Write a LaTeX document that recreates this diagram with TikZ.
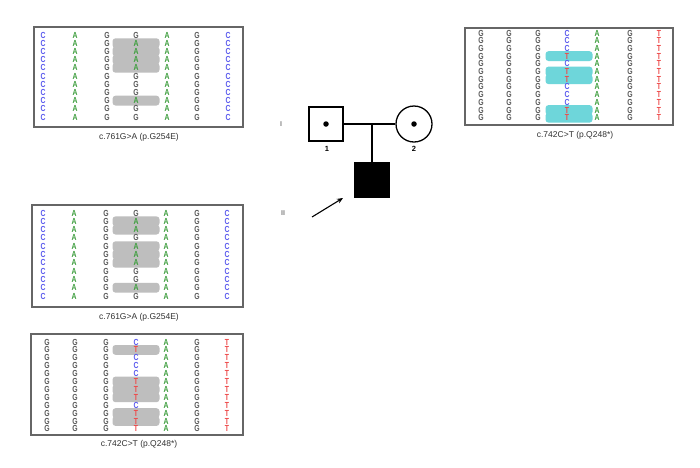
\documentclass[tikz,border=0pt]{standalone}
\usepackage{fontspec}
\usepackage{graphicx}
\newfontfamily\labfam{Liberation Sans}
\usetikzlibrary{arrows.meta}
\definecolor{colC}{HTML}{5B5BEE}
\definecolor{colA}{HTML}{3E9E3E}
\definecolor{colG}{HTML}{5A5A5A}
\definecolor{colT}{HTML}{EE4A4A}
\definecolor{hlgray}{HTML}{BEBEBE}
\definecolor{hlcyan}{HTML}{6ED6DA}
\definecolor{boxgray}{HTML}{666666}
\definecolor{labgray}{HTML}{333333}
\newcommand\seqfont{\labfam\bfseries\fontsize{8.8}{8.8}\selectfont}
\newcommand\seqcolumn[5]{%
  \foreach \L [count=\r] in {#5} {
    \node[base, text=col\L] (#1-\r) at (#2, {#3+(\r-1)*#4}) {\scalebox{0.78}[1]{\L}};
  }}
\newcommand\hlrows[5]{%
  \foreach \r in {#5} {
    \fill[#4, rounded corners=3pt] ({#1-23.5}, {#2+(\r-1)*#3-4.9}) rectangle ({#1+23.5}, {#2+(\r-1)*#3+4.9});
  }}
\begin{document}
\begin{tikzpicture}[x=1pt,y=-1pt,
  box/.style={draw=boxgray, line width=1.5pt},
  base/.style={inner sep=0pt, font=\seqfont, anchor=center},
  lab/.style={font=\labfam\fontsize{8.5}{8.5}\selectfont, text=labgray, inner sep=0pt},
  gen/.style={font=\labfam\bfseries\fontsize{7}{7}\selectfont, text=gray, inner sep=0pt},
  ped/.style={draw=black, line width=1.3pt, inner sep=0pt},
  dot/.style={circle, fill=black, inner sep=0pt, minimum size=5.5pt}]
\useasboundingbox (0,0) rectangle (700,467);
\fill[white] (0,0) rectangle (700,467);

% ---------- top-left box c.761G>A ----------
\draw[box] (34,27) rectangle (243,127);
\hlrows{136}{35}{8.2}{hlgray}{2,3,4,5,9}
\seqcolumn{tla}{43}{35}{8.2}{C,C,C,C,C,C,C,C,C,C,C}
\seqcolumn{tlb}{75}{35}{8.2}{A,A,A,A,A,A,A,A,A,A,A}
\seqcolumn{tlc}{107}{35}{8.2}{G,G,G,G,G,G,G,G,G,G,G}
\seqcolumn{tld}{136}{35}{8.2}{G,A,A,A,A,G,G,G,A,G,G}
\seqcolumn{tle}{167}{35}{8.2}{A,A,A,A,A,A,A,A,A,A,A}
\seqcolumn{tlf}{197}{35}{8.2}{G,G,G,G,G,G,G,G,G,G,G}
\seqcolumn{tlg}{228}{35}{8.2}{C,C,C,C,C,C,C,C,C,C,C}
\node[lab] (tllab) at (139,137) {c.761G>A (p.G254E)};

% ---------- top-right box c.742C>T ----------
\draw[box] (465,28) rectangle (673,125);
\hlrows{569}{33}{7.7}{hlcyan}{4,6,7,11,12}
\seqcolumn{tra}{481}{33}{7.7}{G,G,G,G,G,G,G,G,G,G,G,G}
\seqcolumn{trb}{509}{33}{7.7}{G,G,G,G,G,G,G,G,G,G,G,G}
\seqcolumn{trc}{538}{33}{7.7}{G,G,G,G,G,G,G,G,G,G,G,G}
\seqcolumn{trd}{567}{33}{7.7}{C,C,C,T,C,T,T,C,C,C,T,T}
\seqcolumn{tre}{597}{33}{7.7}{A,A,A,A,A,A,A,A,A,A,A,A}
\seqcolumn{trf}{630}{33}{7.7}{G,G,G,G,G,G,G,G,G,G,G,G}
\seqcolumn{trg}{659}{33}{7.7}{T,T,T,T,T,T,T,T,T,T,T,T}
\node[lab] (trlab) at (575,135) {c.742C>T (p.Q248*)};

% ---------- middle-left box c.761G>A ----------
\draw[box] (32,205) rectangle (243,307);
\hlrows{136}{213}{8.3}{hlgray}{2,3,5,6,7,10}
\seqcolumn{mla}{43}{213}{8.3}{C,C,C,C,C,C,C,C,C,C,C}
\seqcolumn{mlb}{74}{213}{8.3}{A,A,A,A,A,A,A,A,A,A,A}
\seqcolumn{mlc}{106}{213}{8.3}{G,G,G,G,G,G,G,G,G,G,G}
\seqcolumn{mld}{136}{213}{8.3}{G,A,A,G,A,A,A,G,G,A,G}
\seqcolumn{mle}{166}{213}{8.3}{A,A,A,A,A,A,A,A,A,A,A}
\seqcolumn{mlf}{197}{213}{8.3}{G,G,G,G,G,G,G,G,G,G,G}
\seqcolumn{mlg}{227}{213}{8.3}{C,C,C,C,C,C,C,C,C,C,C}
\node[lab] (mllab) at (139,317) {c.761G>A (p.G254E)};

% ---------- bottom-left box c.742C>T ----------
\draw[box] (31,334) rectangle (243,435);
\hlrows{136}{342}{7.9}{hlgray}{2,6,7,8,10,11}
\seqcolumn{bla}{47}{342}{7.9}{G,G,G,G,G,G,G,G,G,G,G,G}
\seqcolumn{blb}{75}{342}{7.9}{G,G,G,G,G,G,G,G,G,G,G,G}
\seqcolumn{blc}{106}{342}{7.9}{G,G,G,G,G,G,G,G,G,G,G,G}
\seqcolumn{bld}{136}{342}{7.9}{C,T,C,C,C,T,T,T,C,T,T,T}
\seqcolumn{ble}{166}{342}{7.9}{A,A,A,A,A,A,A,A,A,A,A,A}
\seqcolumn{blf}{197}{342}{7.9}{G,G,G,G,G,G,G,G,G,G,G,G}
\seqcolumn{blg}{227}{342}{7.9}{T,T,T,T,T,T,T,T,T,T,T,T}
\node[lab] (bllab) at (139,444) {c.742C>T (p.Q248*)};

% ---------- pedigree ----------
\node[gen] (genI) at (281,124) {I};
\node[gen] (genII) at (283,213) {II};
\node[ped, rectangle, minimum size=34pt] (fa) at (326,124) {};
\node[dot] (fadot) at (fa.center) {};
\node[ped, circle, minimum size=36pt] (mo) at (414,124) {};
\node[dot] (modot) at (mo.center) {};
\draw[ped] (fa.east) -- (mo.west);
\coordinate (mid) at (372,124);
\node[ped, rectangle, fill=black, minimum size=35pt] (pr) at (372,180) {};
\draw[ped] (mid) -- (pr.north);
\node[font=\labfam\bfseries\fontsize{7.5}{7.5}\selectfont, inner sep=0pt] (n1) at (327,149) {1};
\node[font=\labfam\bfseries\fontsize{7.5}{7.5}\selectfont, inner sep=0pt] (n2) at (414,149) {2};
\coordinate (arrs) at (312,217);
\coordinate (arre) at (343,198);
\draw[line width=1.1pt, -{Stealth[length=6pt,width=5pt]}] (arrs) -- (arre);
\end{tikzpicture}
\end{document}
